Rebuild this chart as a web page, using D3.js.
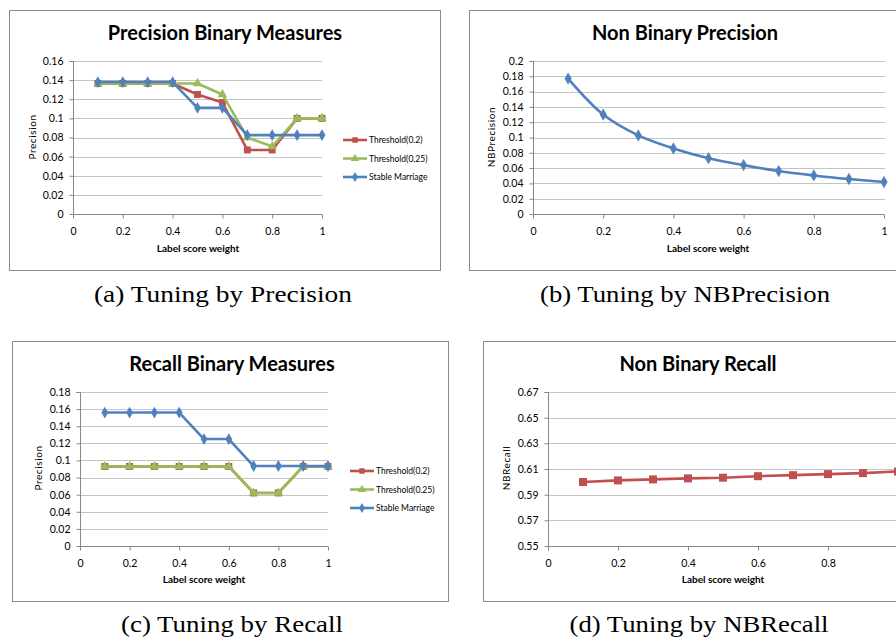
<!DOCTYPE html>
<html lang="en">
<head>
  <meta charset="UTF-8">
  <title>Tuning by label score weight</title>
  <style>
    body {
      margin: 0;
      background-color: #fff;
    }
    svg {
      display: block;
    }
    .tick-label {
      font-family: Lato, 'Open Sans', sans-serif;
      font-size: 10.5px;
      fill: #000;
    }
    .chart-title {
      font-family: Lato, 'Open Sans', sans-serif;
      font-weight: bold;
      font-size: 20px;
      fill: #000;
    }
    .axis-title {
      font-family: Lato, 'Open Sans', sans-serif;
      font-weight: bold;
      font-size: 10px;
      fill: #000;
    }
    .y-title {
      font-family: Lato, 'Open Sans', sans-serif;
      font-size: 10px;
      letter-spacing: 0.6px;
      fill: #000;
    }
    .legend {
      font-family: Lato, 'Open Sans', sans-serif;
      font-size: 8.5px;
      fill: #000;
    }
    .caption {
      font-family: 'Liberation Serif', 'DejaVu Serif', serif;
      font-size: 23px;
      fill: #000;
    }
  </style>
</head>
<body>
  <svg width="896" height="637"></svg>
  <script src="https://d3js.org/d3.v7.min.js"></script>
  <script>
    // Data
    const weights = [0.1, 0.2, 0.3, 0.4, 0.5, 0.6, 0.7, 0.8, 0.9, 1.0];
    const xTicks = [0, 0.2, 0.4, 0.6, 0.8, 1];

    // (a) precision binary measures
    const precThreshold02 = [0.1365, 0.1365, 0.1365, 0.1365, 0.125, 0.1165, 0.067, 0.067, 0.1, 0.1];
    const precThreshold025 = [0.1365, 0.1365, 0.1365, 0.1365, 0.1365, 0.125, 0.08, 0.0705, 0.1, 0.1];
    const precStable = [0.138, 0.138, 0.138, 0.138, 0.111, 0.111, 0.0825, 0.0825, 0.0825, 0.0825];
    const precTicks = [0, 0.02, 0.04, 0.06, 0.08, 0.1, 0.12, 0.14, 0.16];

    // (b) non binary precision
    const nbPrecision = [0.177, 0.130, 0.1027, 0.0857, 0.073, 0.0639, 0.0561, 0.0504, 0.0457, 0.0418];
    const nbPrecTicks = [0, 0.02, 0.04, 0.06, 0.08, 0.1, 0.12, 0.14, 0.16, 0.18, 0.2];

    // (c) recall binary measures
    const recThreshold02 = [0.093, 0.093, 0.093, 0.093, 0.093, 0.093, 0.062, 0.062, 0.093, 0.093];
    const recThreshold025 = [0.093, 0.093, 0.093, 0.093, 0.093, 0.093, 0.062, 0.062, 0.093, 0.093];
    const recStable = [0.156, 0.156, 0.156, 0.156, 0.125, 0.125, 0.0935, 0.0935, 0.0935, 0.0935];
    const recTicks = [0, 0.02, 0.04, 0.06, 0.08, 0.1, 0.12, 0.14, 0.16, 0.18];

    // (d) non binary recall
    const nbRecall = [0.5999, 0.6011, 0.6019, 0.6027, 0.6032, 0.6044, 0.6052, 0.606, 0.6068, 0.6081];
    const nbRecTicks = [0.55, 0.57, 0.59, 0.61, 0.63, 0.65, 0.67];

    const seriesNames = ['Threshold(0.2)', 'Threshold(0.25)', 'Stable Marriage'];
    const captions = ['(a) Tuning by Precision', '(b) Tuning by NBPrecision', '(c) Tuning by Recall', '(d) Tuning by NBRecall'];

    // Excel 2007 palette
    const red = '#c0504d', green = '#9bbb59', blue = '#4f81bd';
    const gridColor = '#c4c4c4', axisColor = '#868686';

    const svgWidth = 896, svgHeight = 637;
    const svg = d3.select('svg');
    svg.append('rect').attr('width', svgWidth).attr('height', svgHeight).attr('fill', '#fff');

    const symbols = {
      square: d3.symbolSquare,
      triangle: d3.symbolTriangle,
      diamond: d3.symbolDiamond
    };

    const fmt = v => String(+v.toFixed(2));

    function drawPanel(p) {
      const g = svg.append('g');

      // outer frame
      g.append('rect')
        .attr('x', p.box[0]).attr('y', p.box[1])
        .attr('width', p.box[2] - p.box[0]).attr('height', p.box[3] - p.box[1])
        .attr('fill', '#fff').attr('stroke', '#8c8c8c').attr('stroke-width', 1);

      const x = d3.scaleLinear().domain([0, 1]).range([p.plot[0], p.plot[1]]);
      const y = d3.scaleLinear().domain([p.yTicks[0], p.yTicks[p.yTicks.length - 1]]).range([p.plot[2], p.plot[3]]);

      // gridlines
      g.selectAll('line.grid')
        .data(p.yTicks.slice(1))
        .enter().append('line')
        .attr('x1', x(0)).attr('x2', p.gridEnd || x(1))
        .attr('y1', d => Math.round(y(d)) + 0.5).attr('y2', d => Math.round(y(d)) + 0.5)
        .attr('stroke', gridColor).attr('stroke-width', 1);

      // y axis
      const yAxis = d3.axisLeft(y).tickValues(p.yTicks).tickFormat(fmt).tickSize(4).tickPadding(6);
      const yg = g.append('g').attr('transform', `translate(${Math.round(x(0)) + 0.5},0)`).call(yAxis);

      // x axis (labels only where they fit on the page)
      const xAxis = d3.axisBottom(x).tickValues(xTicks.filter(t => x(t) < svgWidth - 6)).tickFormat(fmt).tickSize(4).tickPadding(9);
      const xg = g.append('g').attr('transform', `translate(0,${Math.round(y(p.yTicks[0])) + 0.5})`).call(xAxis);

      [yg, xg].forEach(a => {
        a.select('.domain').attr('stroke', axisColor);
        a.selectAll('.tick line').attr('stroke', axisColor);
        a.selectAll('.tick text').attr('class', 'tick-label').attr('fill', '#000');
        a.attr('font-family', null).attr('font-size', null);
      });
      yg.select('.domain').attr('d', `M-4,${Math.round(y(p.yTicks[p.yTicks.length - 1])) + 0.5}H0V${Math.round(y(p.yTicks[0])) + 0.5}`);
      xg.select('.domain').attr('d', `M${Math.round(x(0)) + 0.5},0H${x(1)}`);

      // titles
      g.append('text').attr('class', 'chart-title')
        .attr('x', p.title[1]).attr('y', p.title[2])
        .attr('text-anchor', 'middle').text(p.title[0]);
      g.append('text').attr('class', 'axis-title')
        .attr('x', p.xTitle[0]).attr('y', p.xTitle[1])
        .attr('text-anchor', 'middle').text('Label score weight');
      g.append('text').attr('class', 'y-title')
        .attr('transform', `translate(${p.yTitle[1]},${p.yTitle[2]}) rotate(-90)`)
        .attr('text-anchor', 'middle').text(p.yTitle[0]);

      // series
      const line = d3.line()
        .x((d, i) => x(weights[i]))
        .y(d => y(d))
        .curve(p.smooth ? d3.curveCatmullRom.alpha(0.5) : d3.curveLinear);

      p.series.forEach(s => {
        g.append('path')
          .datum(s.values)
          .attr('d', line)
          .attr('fill', 'none')
          .attr('stroke', s.color)
          .attr('stroke-width', 2.6)
          .attr('stroke-linejoin', 'round');

        g.selectAll(null)
          .data(s.values)
          .enter().append('path')
          .attr('transform', (d, i) => `translate(${x(weights[i])},${y(d)})`)
          .attr('d', d3.symbol().type(symbols[s.symbol]).size(s.size || 48))
          .attr('fill', s.color);
      });

      // legend
      if (p.legend) {
        p.series.forEach((s, i) => {
          const ly = p.legend[1] + i * p.legend[2];
          g.append('line')
            .attr('x1', p.legend[0]).attr('x2', p.legend[0] + 24)
            .attr('y1', ly).attr('y2', ly)
            .attr('stroke', s.color).attr('stroke-width', 2.6);
          g.append('path')
            .attr('transform', `translate(${p.legend[0] + 12},${ly})`)
            .attr('d', d3.symbol().type(symbols[s.symbol]).size(30))
            .attr('fill', s.color);
          g.append('text').attr('class', 'legend')
            .attr('x', p.legend[0] + 26).attr('y', ly + 3)
            .text(s.name);
        });
      }

      // caption under the frame
      svg.append('text').attr('class', 'caption')
        .attr('x', p.caption[1]).attr('y', p.caption[2])
        .attr('text-anchor', 'middle')
        .attr('textLength', p.caption[3])
        .attr('lengthAdjust', 'spacingAndGlyphs')
        .text(p.caption[0]);
    }

    drawPanel({
      box: [9.5, 10.5, 440.5, 270.5],
      plot: [73, 322, 214, 61],
      yTicks: precTicks,
      title: ['Precision Binary Measures', 225, 40],
      xTitle: [198, 252],
      yTitle: ['Precision', 36, 137],
      series: [
        { name: seriesNames[0], values: precThreshold02, color: red, symbol: 'square' },
        { name: seriesNames[1], values: precThreshold025, color: green, symbol: 'triangle', size: 40 },
        { name: seriesNames[2], values: precStable, color: blue, symbol: 'diamond', size: 40 }
      ],
      legend: [343, 140, 18.5],
      caption: [captions[0], 223, 302, 258]
    });

    drawPanel({
      box: [469.5, 10.5, 900, 270.5],
      plot: [533, 884, 214, 61],
      gridEnd: 885,
      yTicks: nbPrecTicks,
      title: ['Non Binary Precision', 685, 40],
      xTitle: [708, 252],
      yTitle: ['NBPrecision', 495, 137],
      smooth: true,
      series: [
        { name: 'NBPrecision', values: nbPrecision, color: blue, symbol: 'diamond', size: 44 }
      ],
      caption: [captions[1], 685, 302, 290]
    });

    drawPanel({
      box: [12.5, 341.5, 448.5, 601.5],
      plot: [80, 328, 546, 392],
      yTicks: recTicks,
      title: ['Recall Binary Measures', 232, 371],
      xTitle: [204, 583],
      yTitle: ['Precision', 42, 468],
      series: [
        { name: seriesNames[0], values: recThreshold02, color: red, symbol: 'square' },
        { name: seriesNames[1], values: recThreshold025, color: green, symbol: 'triangle', size: 40 },
        { name: seriesNames[2], values: recStable, color: blue, symbol: 'diamond', size: 40 }
      ],
      legend: [350, 471, 18.5],
      caption: [captions[2], 232, 632, 222]
    });

    drawPanel({
      box: [483.5, 341.5, 900, 601.5],
      plot: [548, 898, 546, 392],
      yTicks: nbRecTicks,
      title: ['Non Binary Recall', 698, 371],
      xTitle: [723, 583],
      yTitle: ['NBRecall', 510, 468],
      series: [
        { name: 'NBRecall', values: nbRecall, color: red, symbol: 'square', size: 64 }
      ],
      caption: [captions[3], 699, 632, 259]
    });
  </script>
</body>
</html>
